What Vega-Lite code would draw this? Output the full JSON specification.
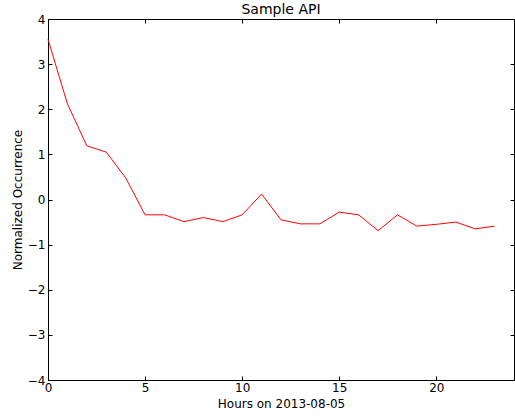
{
  "$schema": "https://vega.github.io/schema/vega-lite/v6.json",
  "autosize": "none",
  "width": 466,
  "height": 361,
  "padding": {"left": 48, "top": 19, "right": 1, "bottom": 37},
  "background": "white",
  "title": {"text": "Sample API", "font": "DejaVu Sans", "fontSize": 14, "fontWeight": "normal", "color": "black", "offset": -4},
  "config": {
    "view": {"stroke": "black", "strokeWidth": 1},
    "axis": {"grid": false, "domainColor": "black", "tickColor": "black", "labelColor": "black", "titleColor": "black", "labelFont": "DejaVu Sans", "titleFont": "DejaVu Sans", "labelFontSize": 12, "titleFontSize": 12, "titleFontWeight": "normal", "labelOverlap": false}
  },
  "data": {"values": [
    {"hour": 0, "value": 3.55},
    {"hour": 1, "value": 2.12},
    {"hour": 2, "value": 1.19},
    {"hour": 3, "value": 1.05},
    {"hour": 4, "value": 0.48},
    {"hour": 5, "value": -0.34},
    {"hour": 6, "value": -0.34},
    {"hour": 7, "value": -0.49},
    {"hour": 8, "value": -0.40},
    {"hour": 9, "value": -0.49},
    {"hour": 10, "value": -0.34},
    {"hour": 11, "value": 0.12},
    {"hour": 12, "value": -0.45},
    {"hour": 13, "value": -0.54},
    {"hour": 14, "value": -0.54},
    {"hour": 15, "value": -0.28},
    {"hour": 16, "value": -0.34},
    {"hour": 17, "value": -0.69},
    {"hour": 18, "value": -0.34},
    {"hour": 19, "value": -0.59},
    {"hour": 20, "value": -0.55},
    {"hour": 21, "value": -0.50},
    {"hour": 22, "value": -0.65},
    {"hour": 23, "value": -0.59}
  ]},
  "layer": [
    {
      "mark": {"type": "line", "color": "red", "strokeWidth": 1},
      "encoding": {
        "x": {"field": "hour", "type": "quantitative", "scale": {"domain": [0, 24], "nice": false},
              "axis": {"orient": "bottom", "title": "Hours on 2013-08-05", "values": [0, 5, 10, 15, 20], "tickSize": -4, "labelPadding": 6, "titlePadding": 5, "labelFlush": false}},
        "y": {"field": "value", "type": "quantitative", "scale": {"domain": [-4, 4], "nice": false},
              "axis": {"orient": "left", "title": "Normalized Occurrence", "values": [-4, -3, -2, -1, 0, 1, 2, 3, 4], "tickSize": -4, "labelPadding": 7, "titlePadding": 3, "labelExpr": "replace(datum.label, '-', '\u2212')"}}
      }
    },
    {
      "mark": {"type": "line", "opacity": 0},
      "encoding": {
        "x": {"field": "hour", "type": "quantitative",
              "axis": {"orient": "top", "title": null, "labels": false, "values": [0, 5, 10, 15, 20], "tickSize": -4, "domain": false}},
        "y": {"field": "value", "type": "quantitative",
              "axis": {"orient": "right", "title": null, "labels": false, "values": [-4, -3, -2, -1, 0, 1, 2, 3, 4], "tickSize": -4, "domain": false}}
      }
    }
  ],
  "resolve": {"axis": {"x": "independent", "y": "independent"}}
}
